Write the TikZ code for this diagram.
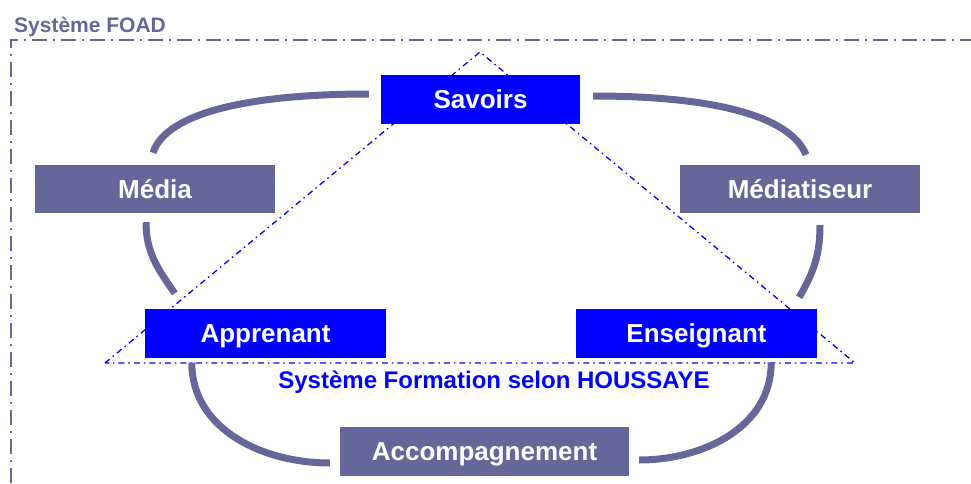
\documentclass[tikz,border=0pt]{standalone}
\usepackage{fontspec}
\setmainfont{Liberation Sans}
\usepackage{xcolor}
\usepackage{tikz}
\usetikzlibrary{positioning}

\definecolor{foadGrey}{HTML}{666699}
\definecolor{foadBlue}{HTML}{0000FF}

\begin{document}
\begin{tikzpicture}[x=1pt,y=1pt,font=\bfseries]
    \tikzset{
        blueBox/.style={fill=foadBlue,text=white,inner sep=0pt,minimum width=241pt,minimum height=49pt,text height=18.6pt,text depth=0pt,font=\fontsize{26}{28}\selectfont\bfseries},
        greyBox/.style={fill=foadGrey,text=white,inner sep=0pt,minimum width=240pt,minimum height=48pt,text height=18.6pt,text depth=0pt,font=\fontsize{26}{28}\selectfont\bfseries},
        linkArc/.style={draw=foadGrey,line width=7pt},
        foadFrame/.style={draw=foadGrey,line width=2pt,dash pattern=on 15pt off 6pt on 2pt off 6pt},
        houssayeTri/.style={draw=foadBlue,line width=1.3pt,dash pattern=on 6pt off 4pt on 1.5pt off 4pt}
    }
    \useasboundingbox (0,0) rectangle (971,483);
    % Systeme FOAD frame
    \draw[foadFrame] (11,0) -- (11,443) -- (971,443);
    \node[anchor=base west,text=foadGrey,inner sep=0pt,font=\fontsize{21}{23}\selectfont\bfseries] (foad) at (14,450) {Système FOAD};
    % Houssaye triangle
    \draw[houssayeTri] (105,120) -- (480,431) -- (855,120) -- cycle;
    \node[anchor=base,text=foadBlue,inner sep=0pt,font=\fontsize{24}{26}\selectfont\bfseries] (houssaye) at (494,95) {Système Formation selon HOUSSAYE};
    % boxes
    \node[blueBox,minimum width=199pt] (savoirs) at (480.5,383.5) {Savoirs};
    \node[greyBox] (media) at (155,294) {Média};
    \node[greyBox] (mediatiseur) at (800,294) {Médiatiseur};
    \node[blueBox] (apprenant) at (265.5,150) {Apprenant};
    \node[blueBox] (enseignant) at (696.5,150) {Enseignant};
    \node[greyBox,minimum width=289pt,minimum height=49pt] (accomp) at (484.5,31.5) {Accompagnement};
    % arcs
    \draw[linkArc] ([shift={(-12,5.5)}]savoirs.west) .. controls +(180:120) and +(72:42) .. ([shift={(-2,12)}]media.north);
    \draw[linkArc] ([shift={(13,3.5)}]savoirs.east) .. controls +(0:120) and +(112:42) .. ([shift={(6,10)}]mediatiseur.north);
    \draw[linkArc] ([shift={(-9,-9)}]media.south) to[out=-90,in=125] ([shift={(30,15)}]apprenant.north west);
    \draw[linkArc] ([shift={(20,-12)}]mediatiseur.south) to[out=-90,in=60] ([shift={(-18,11)}]enseignant.north east);
    \draw[linkArc] ([shift={(47,-5)}]apprenant.south west) to[out=-90,in=180] ([shift={(-10,-11.5)}]accomp.west);
    \draw[linkArc] ([shift={(-46,-5)}]enseignant.south east) to[out=-90,in=0] ([shift={(10,-8.5)}]accomp.east);
\end{tikzpicture}
\end{document}
